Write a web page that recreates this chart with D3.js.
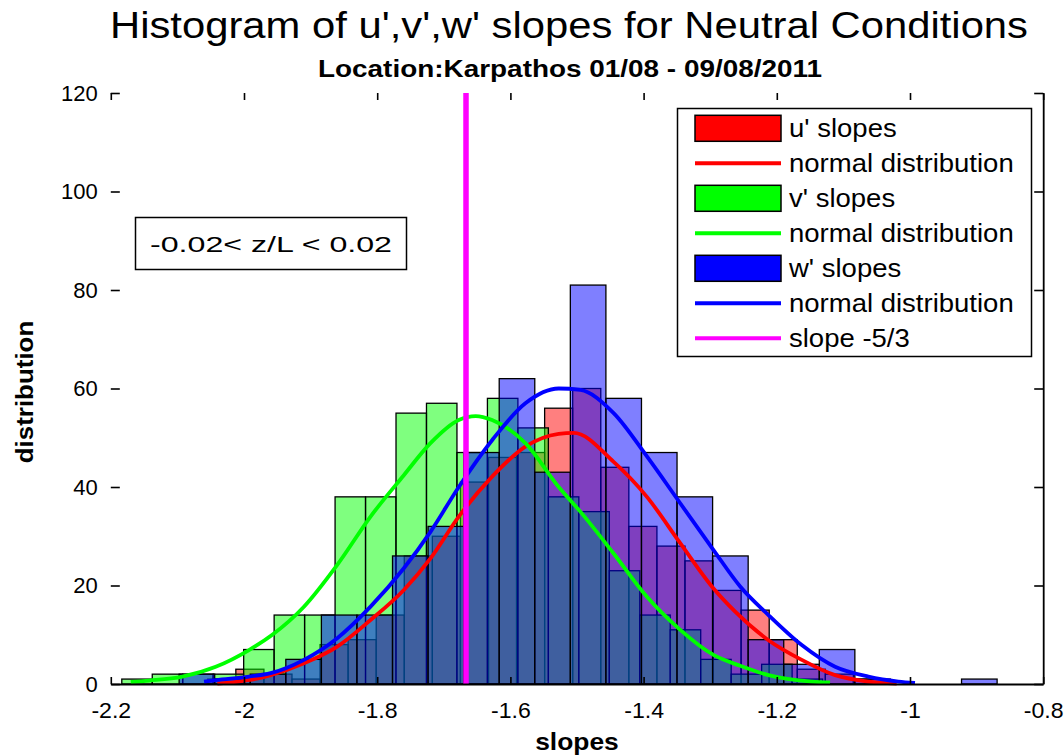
<!DOCTYPE html>
<html>
<head>
<meta charset="utf-8">
<script src="https://cdn.jsdelivr.net/npm/d3@7"></script>
<style>
  body { margin: 0; background: #ffffff; }
  text { font-family: "Liberation Sans", Arial, sans-serif; }
</style>
</head>
<body>
<svg id="chart" width="1064" height="755"></svg>
<script>
// ---- histogram bins (left edge of first bin, bin width, counts) ----
const uBinStart = -2.0544, uBinWidth = 0.04215;
const uCounts = [1, 3, 2, 1, 8, 9, 14, 26, 30, 41, 46, 47, 56, 60, 44, 32, 28, 25, 19, 15, 9, 3, 2, 1];

const vBinStart = -2.1835, vBinWidth = 0.04575;
const vCounts = [1, 2, 2, 2, 7, 14, 14, 38, 38, 55, 57, 47, 58, 52, 38, 35, 23, 14, 11, 5, 2, 4, 1];

const wBinStart = -2.0974, wBinWidth = 0.0534;
const wCounts = [2, 1, 2, 5, 14, 14, 26, 32, 47, 62, 43, 81, 58, 47, 38, 26, 9, 4, 7, 1, 0, 0, 1];

// ---- fitted normal curves, sampled as [slope, count] ----
const uFit = [[-2.04, 0.1], [-2.01, 0.5], [-1.9775, 1.2], [-1.96, 1.8], [-1.91, 4.2], [-1.86, 7.6],
  [-1.81, 13], [-1.76, 19.1], [-1.72, 25.5], [-1.6775, 34], [-1.6275, 42.1], [-1.5775, 48.2],
  [-1.5275, 50.8], [-1.505, 51], [-1.445, 45.1], [-1.395, 38], [-1.345, 28.6], [-1.295, 19.4],
  [-1.2625, 14.7], [-1.2125, 8.9], [-1.1625, 4.9], [-1.1125, 1.8], [-1.0625, 0.5], [-1.02, 0.1]];

const vFit = [[-2.17, 0.4], [-2.1426, 0.7], [-2.0925, 1.5], [-2.0425, 3.5], [-1.9925, 6.9],
  [-1.9575, 10], [-1.91, 15.7], [-1.86, 24.2], [-1.81, 34], [-1.76, 42.4], [-1.72, 48.9],
  [-1.6775, 53.6], [-1.652, 54.4], [-1.6275, 53.6], [-1.5775, 48.9], [-1.5275, 40], [-1.495, 35],
  [-1.445, 26.5], [-1.395, 17.7], [-1.345, 11], [-1.295, 5.9], [-1.255, 3.7], [-1.2125, 1.8],
  [-1.1475, 0.5], [-1.12, 0.3]];

const wFit = [[-2.06, 0.5], [-2.0425, 0.8], [-1.9925, 1.5], [-1.96, 2.2], [-1.91, 4.9], [-1.86, 9.3],
  [-1.81, 15.7], [-1.76, 23.5], [-1.72, 30.9], [-1.6775, 40], [-1.6275, 49.5], [-1.5775, 57],
  [-1.5275, 60], [-1.495, 59.7], [-1.445, 55], [-1.395, 46.2], [-1.345, 36.7], [-1.295, 27.2],
  [-1.255, 19.8], [-1.2125, 14], [-1.1625, 7.9], [-1.1125, 3.5], [-1.0625, 1.5], [-1.0175, 0.5],
  [-0.9925, 0.2]];

// Kolmogorov -5/3 reference slope
const refSlope = -5 / 3;

const xTicks = [-2.2, -2, -1.8, -1.6, -1.4, -1.2, -1, -0.8];
const yTicks = [0, 20, 40, 60, 80, 100, 120];

const titleText = "Histogram of u',v',w' slopes for Neutral Conditions";
const subtitleText = "Location:Karpathos 01/08  - 09/08/2011";
const xLabel = "slopes";
const yLabel = "distribution";
const noteText = "-0.02< z/L < 0.02";
const legendLabels = ["u' slopes", "normal distribution", "v' slopes", "normal distribution",
  "w' slopes", "normal distribution", "slope -5/3"];

// ---- layout ----
const svg = d3.select("#chart");
const plotLeft = 110.8, plotRight = 1043.2, plotTop = 93, plotBottom = 684;

const x = d3.scaleLinear().domain([-2.2, -0.8]).range([plotLeft, plotRight]);
const y = d3.scaleLinear().domain([0, 120]).range([plotBottom, plotTop]);

// widen a text element horizontally by a factor (the figure's font runs wide)
function widen(sel, k) {
  sel.each(function () {
    const len = this.getComputedTextLength();
    d3.select(this).attr("textLength", len * k).attr("lengthAdjust", "spacingAndGlyphs");
  });
  return sel;
}

const series = [
  { start: uBinStart, width: uBinWidth, counts: uCounts, fit: uFit, color: "#ff0000" },
  { start: vBinStart, width: vBinWidth, counts: vCounts, fit: vFit, color: "#00ff00" },
  { start: wBinStart, width: wBinWidth, counts: wCounts, fit: wFit, color: "#0000ff" }
];

// bars, semi-transparent, one histogram on top of the other
series.forEach(s => {
  const bins = s.counts.map((c, i) => ({
    x0: s.start + i * s.width,
    x1: s.start + (i + 1) * s.width,
    count: c
  })).filter(b => b.count > 0);
  svg.append("g").selectAll("rect").data(bins).join("rect")
    .attr("x", d => x(d.x0))
    .attr("width", d => x(d.x1) - x(d.x0))
    .attr("y", d => y(d.count))
    .attr("height", d => y(0) - y(d.count))
    .attr("fill", s.color)
    .attr("fill-opacity", 0.5)
    .attr("stroke", "#000")
    .attr("stroke-width", 1.3);
});

// normal fits
const line = d3.line().x(d => x(d[0])).y(d => y(d[1])).curve(d3.curveMonotoneX);
series.forEach(s => {
  svg.append("path").datum(s.fit)
    .attr("d", line)
    .attr("fill", "none")
    .attr("stroke", s.color)
    .attr("stroke-width", 3.8)
    .attr("stroke-linejoin", "round");
});

// -5/3 line
svg.append("line")
  .attr("x1", x(refSlope)).attr("x2", x(refSlope))
  .attr("y1", y(120)).attr("y2", y(0))
  .attr("stroke", "#ff00ff").attr("stroke-width", 5.5);

// ---- axes (ticks point inward, box drawn on bottom and right) ----
const fmt = d => String(d);
const xAxisB = svg.append("g").attr("transform", `translate(0,${plotBottom})`)
  .call(d3.axisBottom(x).tickValues(xTicks).tickSizeInner(-7).tickSizeOuter(0).tickPadding(17).tickFormat(fmt));
const xAxisT = svg.append("g").attr("transform", `translate(0,${plotTop})`)
  .call(d3.axisTop(x).tickValues(xTicks).tickSizeInner(-7).tickSizeOuter(0).tickFormat(""));
const yAxisL = svg.append("g").attr("transform", `translate(${plotLeft},0)`)
  .call(d3.axisLeft(y).tickValues(yTicks).tickSizeInner(-9).tickSizeOuter(0).tickPadding(13).tickFormat(fmt));
const yAxisR = svg.append("g").attr("transform", `translate(${plotRight},0)`)
  .call(d3.axisRight(y).tickValues(yTicks).tickSizeInner(-9).tickSizeOuter(0).tickFormat(""));

xAxisT.select(".domain").remove();
yAxisL.select(".domain").remove();
[xAxisB, xAxisT, yAxisL, yAxisR].forEach(g => {
  g.selectAll(".domain").attr("stroke", "#000").attr("stroke-width", 1.8);
  g.selectAll(".tick line").attr("stroke", "#000").attr("stroke-width", 1.6);
  g.selectAll(".tick text").attr("fill", "#000").style("font-size", "22px")
    .style("font-family", "'Liberation Sans', Arial, sans-serif");
});
xAxisB.selectAll(".tick text").attr("dy", "0.75em");
widen(xAxisB.selectAll(".tick text"), 1.05);

// ---- titles and axis labels ----
svg.append("text").attr("x", 569).attr("y", 38).attr("text-anchor", "middle")
  .attr("textLength", 918).attr("lengthAdjust", "spacingAndGlyphs")
  .style("font-size", "37px").text(titleText);
svg.append("text").attr("x", 570).attr("y", 77).attr("text-anchor", "middle")
  .attr("textLength", 504).attr("lengthAdjust", "spacingAndGlyphs")
  .style("font-size", "23px").style("font-weight", "bold").text(subtitleText);
widen(svg.append("text").attr("x", 577).attr("y", 750).attr("text-anchor", "middle")
  .style("font-size", "24px").style("font-weight", "bold").text(xLabel), 1.1);
widen(svg.append("text").attr("transform", "translate(33,392) rotate(-90)").attr("text-anchor", "middle")
  .style("font-size", "24px").style("font-weight", "bold").text(yLabel), 1.08);

// ---- annotation box ----
svg.append("rect").attr("x", 135.5).attr("y", 217.5).attr("width", 271).attr("height", 52)
  .attr("fill", "#fff").attr("stroke", "#000").attr("stroke-width", 1.5);
svg.append("text").attr("x", 150).attr("y", 252)
  .attr("textLength", 242).attr("lengthAdjust", "spacingAndGlyphs")
  .style("font-size", "22px").text(noteText);

// ---- legend ----
const legend = svg.append("g");
legend.append("rect").attr("x", 677.5).attr("y", 108.5).attr("width", 354).attr("height", 248)
  .attr("fill", "#fff").attr("stroke", "#000").attr("stroke-width", 1.5);
const legendKinds = [
  { type: "patch", color: "#ff0000" }, { type: "line", color: "#ff0000" },
  { type: "patch", color: "#00ff00" }, { type: "line", color: "#00ff00" },
  { type: "patch", color: "#0000ff" }, { type: "line", color: "#0000ff" },
  { type: "line", color: "#ff00ff" }
];
legendLabels.forEach((label, i) => {
  const cy = 128.3 + i * 35;
  const k = legendKinds[i];
  if (k.type === "patch") {
    legend.append("rect").attr("x", 695).attr("y", cy - 13).attr("width", 86).attr("height", 26)
      .attr("fill", k.color).attr("stroke", "#000").attr("stroke-width", 1.5);
  } else {
    legend.append("line").attr("x1", 695).attr("x2", 781).attr("y1", cy).attr("y2", cy)
      .attr("stroke", k.color).attr("stroke-width", 4);
  }
  widen(legend.append("text").attr("x", 789).attr("y", cy + 9)
    .style("font-size", "25px").text(label), 1.1);
});
</script>
</body>
</html>
